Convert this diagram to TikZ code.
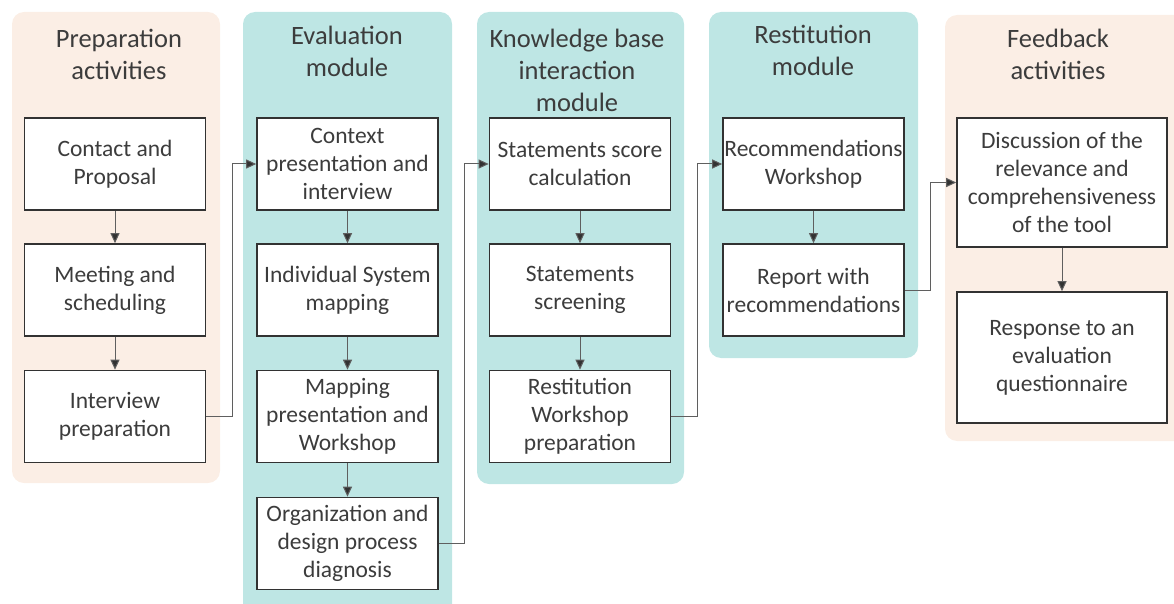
\documentclass[tikz,border=0pt]{standalone}
\usepackage{fontspec}
\setmainfont{Carlito}
\usetikzlibrary{arrows.meta}
\definecolor{peach}{RGB}{251,238,229}
\definecolor{modteal}{RGB}{190,230,228}
\definecolor{boxline}{RGB}{50,50,50}
\definecolor{textgray}{RGB}{60,60,60}
\definecolor{linegray}{RGB}{95,95,95}

\begin{document}
\begin{tikzpicture}[x=1pt,y=-1pt,
    panel/.style={rounded corners=12pt},
    stepbox/.style={draw=boxline,line width=1.6pt,fill=white,minimum width=181pt,minimum height=92pt,
                    align=center,inner sep=0pt,text=textgray,font=\fontsize{23.5}{28}\selectfont},
    heading/.style={align=center,text=textgray,font=\fontsize{26.5}{32}\selectfont},
    flow/.style={draw=linegray,line width=1pt,-{Triangle[length=10pt,width=9pt,fill=boxline]}}]
  \useasboundingbox (0,0) rectangle (1174,604);
  \begin{scope}
    \clip (0,0) rectangle (1174,604);
    % column backgrounds
    \fill[panel,peach]   (12,12)  rectangle (220,483);
    \fill[panel,modteal] (243,12) rectangle (452,620);
    \fill[panel,modteal] (477,12) rectangle (684,484);
    \fill[panel,modteal] (709,12) rectangle (918,358);
    \fill[panel,peach]   (945,15) rectangle (1190,441);
  \end{scope}

  \node[heading] (PrepTitle) at (119,54)  {Preparation\\activities};
  \node[heading] (EvalTitle) at (347,51)  {Evaluation\\module};
  \node[heading] (KbTitle)   at (577,70)  {Knowledge base\\interaction\\module};
  \node[heading] (RestTitle) at (813,50)  {Restitution\\module};
  \node[heading] (FeedTitle) at (1058,54) {Feedback\\activities};

  % preparation activities
  \node[stepbox] (PrepA) at (115,164)   {Contact and\\Proposal};
  \node[stepbox] (PrepB) at (115,290)   {Meeting and\\scheduling};
  \node[stepbox] (PrepC) at (115,416.5) {Interview\\preparation};
  % evaluation module
  \node[stepbox] (EvalA) at (347.5,164)   {Context\\presentation and\\interview};
  \node[stepbox] (EvalB) at (347.5,290)   {Individual System\\mapping};
  \node[stepbox] (EvalC) at (347.5,416.5) {Mapping\\presentation and\\Workshop};
  \node[stepbox] (EvalD) at (347.5,543.5) {Organization and\\design process\\diagnosis};
  % knowledge base interaction module
  \node[stepbox] (KbA) at (580,164)   {Statements score\\calculation};
  \node[stepbox] (KbB) at (580,290)   {Statements\\screening};
  \node[stepbox] (KbC) at (580,416.5) {Restitution\\Workshop\\preparation};
  % restitution module
  \node[stepbox] (RestA) at (813.5,164) {Recommendations\\Workshop};
  \node[stepbox] (RestB) at (813.5,290) {Report with\\recommendations};
  % feedback activities
  \node[stepbox,minimum width=210pt,minimum height=129pt] (FeedA) at (1062,182.5) {Discussion of the\\relevance and\\comprehensiveness\\of the tool};
  \node[stepbox,minimum width=210pt,minimum height=131pt] (FeedB) at (1062,357.5) {Response to an\\evaluation\\questionnaire};

  \path[flow] (PrepA) edge (PrepB)
              (PrepB) edge (PrepC)
              (EvalA) edge (EvalB)
              (EvalB) edge (EvalC)
              (EvalC) edge (EvalD)
              (KbA)   edge (KbB)
              (KbB)   edge (KbC)
              (RestA) edge (RestB)
              (FeedA) edge (FeedB);

  \draw[flow] (PrepC.east) -- ++(26,0) |- (EvalA.west);
  \draw[flow] (EvalD.east) -- ++(26,0) |- (KbA.west);
  \draw[flow] (KbC.east)   -- ++(26,0) |- (RestA.west);
  \draw[flow] (RestB.east) -- ++(26,0) |- (FeedA.west);
\end{tikzpicture}
\end{document}
